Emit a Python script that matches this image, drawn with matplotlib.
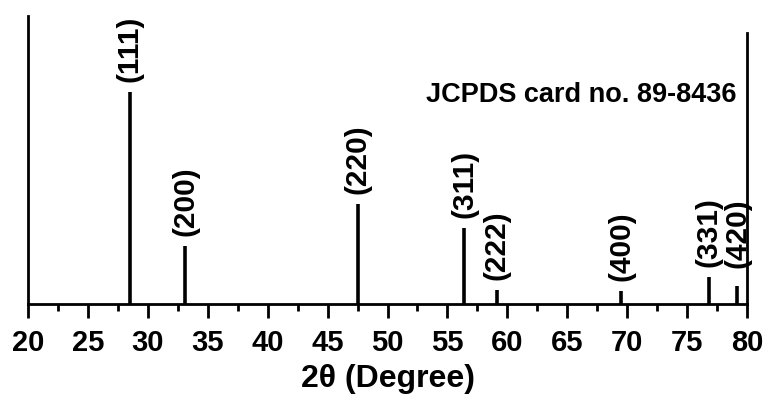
import matplotlib
matplotlib.use("Agg")
import matplotlib.pyplot as plt
from matplotlib.ticker import MultipleLocator

plt.rcParams['font.family'] = ['Liberation Sans', 'DejaVu Sans']
plt.rcParams['font.weight'] = 'bold'

# reference stick pattern (2theta in degrees, relative intensity)
two_theta = [28.5, 33.1, 47.5, 56.4, 59.1, 69.5, 76.8, 79.2]
intensity = [100, 27.3, 47.2, 35.8, 6.6, 6.1, 12.7, 8.5]
hkl = ['(111)', '(200)', '(220)', '(311)', '(222)', '(400)', '(331)', '(420)']
card = 'JCPDS card no. 89-8436'

fig = plt.figure(figsize=(7.66, 4.08), dpi=100)
ax = fig.add_axes([0.0366, 0.255, 0.9386, 0.706])

ax.vlines(two_theta, 0, intensity, color='black', lw=2.6)

for x, y, lab in zip(two_theta, intensity, hkl):
    # (420) sits next to the frame, lift it level with (331)
    off = 13 if lab == '(420)' else 7
    ax.annotate(lab, (x, y), xytext=(0, off), textcoords='offset points',
                rotation=90, ha='center', va='bottom', fontsize=21.5,
                fontweight='bold')

ax.text(0.985, 0.725, card, transform=ax.transAxes, ha='right', va='center',
        fontsize=19.5, fontweight='bold')

ax.set_xlim(20, 80)
ax.set_ylim(0, 136)
ax.xaxis.set_major_locator(MultipleLocator(5))
ax.xaxis.set_minor_locator(MultipleLocator(2.5))
ax.tick_params(axis='x', which='major', direction='out', length=10, width=2,
               pad=8, labelsize=21)
ax.tick_params(axis='x', which='minor', direction='out', length=5, width=2)
ax.set_yticks([])
for lbl in ax.get_xticklabels():
    lbl.set_fontweight('bold')

for side in ['left', 'right', 'bottom']:
    ax.spines[side].set_linewidth(2)
ax.spines['top'].set_visible(False)
ax.spines['right'].set_bounds(0, 128)

ax.set_xlabel('2θ (Degree)', fontsize=23, fontweight='bold', labelpad=5)

fig.savefig('out.png', dpi=100)
